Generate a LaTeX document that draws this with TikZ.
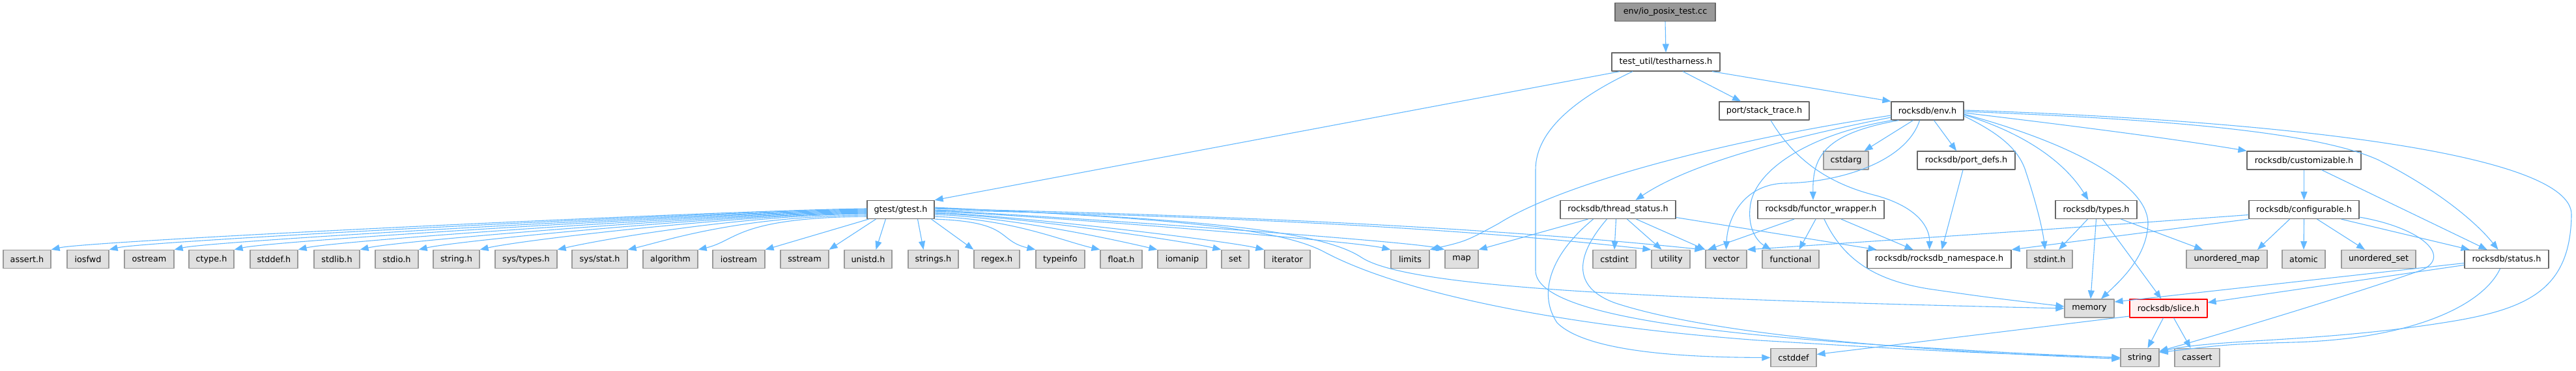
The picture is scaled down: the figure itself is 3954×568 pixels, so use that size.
\documentclass[tikz,border=0pt]{standalone}
\usepackage{fontspec}
\setmainfont{DejaVu Sans}
\usetikzlibrary{arrows.meta}
\definecolor{arista}{HTML}{63B8FF}
\definecolor{bordesis}{HTML}{999999}
\definecolor{fondosis}{HTML}{E0E0E0}
\definecolor{bordedoc}{HTML}{666666}
\definecolor{fondoraiz}{HTML}{999999}
\definecolor{fondocorte}{HTML}{FFF0F0}

\begin{document}
\begin{tikzpicture}[x=1pt, y=-1pt, line join=round,
  every node/.style={font=\fontsize{12.8}{15}\selectfont, inner sep=0pt, minimum height=28pt, line width=1.2pt},
  sysh/.style={draw=bordesis, fill=fondosis},
  doch/.style={draw=bordedoc, fill=white},
  raiz/.style={draw=bordedoc, fill=fondoraiz},
  cortado/.style={draw=red, fill=fondocorte},
  incl/.style={draw=arista, line width=1.1pt, -{Triangle[length=13pt,width=10pt]}}]
  \useasboundingbox (0,0) rectangle (3954,568);
  % los ficheros del proyecto
  \node[raiz, minimum width=154] (io) at (2556,18.5) {env/io\_posix\_test.cc};
  \node[doch, minimum width=166] (th) at (2557,95) {test\_util/testharness.h};
  \node[doch, minimum width=138] (stack) at (2708,170) {port/stack\_trace.h};
  \node[doch, minimum width=111] (env) at (2958.5,170) {rocksdb/env.h};
  \node[sysh, minimum width=69] (cstdarg) at (2833.5,246) {cstdarg};
  \node[doch, minimum width=150] (portdefs) at (3018,246) {rocksdb/port\_defs.h};
  \node[doch, minimum width=175] (custom) at (3536.5,246) {rocksdb/customizable.h};
  \node[doch, minimum width=103] (gtest) at (1382.5,321.5) {gtest/gtest.h};
  \node[doch, minimum width=177] (thread) at (2483.5,321.5) {rocksdb/thread\_status.h};
  \node[doch, minimum width=194] (functor) at (2795,321.5) {rocksdb/functor\_wrapper.h};
  \node[doch, minimum width=125] (types) at (3217.5,321.5) {rocksdb/types.h};
  \node[doch, minimum width=169] (config) at (3536.5,321.5) {rocksdb/configurable.h};
  \node[doch, minimum width=221] (nspace) at (2976.5,397.5) {rocksdb/rocksdb\_namespace.h};
  \node[doch, minimum width=129] (status) at (3847.5,397.5) {rocksdb/status.h};
  \node[sysh, minimum width=76] (memory) at (3207,473) {memory};
  \node[cortado, minimum width=119] (slice) at (3328.5,473) {rocksdb/slice.h};
  \node[sysh, minimum width=70] (cstddef) at (2753,548.5) {cstddef};
  \node[sysh, minimum width=59] (string) at (3284.5,548.5) {string};
  \node[sysh, minimum width=69] (cassert) at (3372.5,548.5) {cassert};
  % las cabeceras del sistema, en una fila
  \foreach \n/\t/\c/\w in {hassert/assert.h/41.5/73, hiosfwd/iosfwd/135/64, hostream/ostream/229/76,
      hctype/ctype.h/324.5/69, hstddef/stddef.h/420.5/73, hstdlib/stdlib.h/517/70, hstdio/stdio.h/609/66,
      hstring/string.h/700.5/71, hsystypes/{sys/types.h}/807.5/95, hsysstat/{sys/stat.h}/920.5/85,
      halgorithm/algorithm/1029/84, hiostream/iostream/1134/80, hsstream/sstream/1235/74,
      hunistd/unistd.h/1332.5/73, hstrings/strings.h/1432.5/77, hregex/regex.h/1530/70,
      htypeinfo/typeinfo/1627.5/75, hfloat/float.h/1721/64, hiomanip/iomanip/1814.5/75, hset/set/1896/42,
      hiterator/iterator/1976/70, hlimits/limits/2164.5/59, hmap/map/2243.5/51, hcstdint/cstdint/2478/66,
      hutility/utility/2564.5/59, hvector/vector/2649.5/63, hfunctional/functional/2748.5/87,
      hstdint/stdint.h/3146/70, humap/unordered\_map/3418/124, hatomic/atomic/3536/66,
      huset/unordered\_set/3651/114} {
    \node[sysh, minimum width=\w] (\n) at (\c,397.5) {\t};
  }
  % arriba del todo
  \draw[incl] (io.south) -- (th.north);
  \draw[incl] ([xshift=13]th.south west) -- (gtest.north east);
  \draw[incl] ([xshift=26]th.south) -- ([xshift=-36]stack.north);
  \draw[incl] ([xshift=71]th.south) -- (env.north west);
  \draw[incl] ([xshift=-51]th.south) .. controls (2420,150) and (2357,200) .. (2357,260) -- (2357,415)
    .. controls (2357,480) and (2600,510) .. (2900,530) .. controls (3100,542) .. (string.west);
  % gtest hacia la izquierda
  \foreach \n/\s in {hassert/1.5, hiosfwd/0.5, hostream/-0.5, hctype/-1.5, hstddef/-2.5, hstdlib/-3.5,
      hstdio/-4.5, hstring/-5.5, hsystypes/-6.5, hsysstat/-8.5, halgorithm/-10.5} {
    \draw[incl] ([yshift=\s]gtest.west) .. controls +(-200,2) and +(60,-14) .. (\n.north east);
  }
  \draw[incl] ([xshift=3]gtest.south west) -- (hiostream.north east);
  \draw[incl] ([xshift=14]gtest.south west) -- (hsstream.north east);
  \draw[incl] ([xshift=29]gtest.south west) -- ([xshift=12]hunistd.north);
  % gtest hacia la derecha
  \draw[incl] ([xshift=26]gtest.south) -- ([xshift=-15]hstrings.north);
  \draw[incl] ([xshift=-5]gtest.south east) -- (hregex.north west);
  \foreach \n/\s in {htypeinfo/0, hfloat/4, hiomanip/7, hset/9, hiterator/10, hlimits/12, hmap/13} {
    \draw[incl] ([yshift=\s]gtest.south east) .. controls +(120,4) and +(-60,-14) .. (\n.north west);
  }
  \draw[incl] ([yshift=14]gtest.south east) .. controls (1800,330) and (2200,345) .. (hutility.north west);
  \draw[incl] ([yshift=16]gtest.south east) .. controls (1800,328) and (2250,345) .. ([xshift=-3]hvector.north west);
  \draw[incl] ([yshift=17]gtest.south east) .. controls (1850,335) and (2030,355) .. (2090,395)
    .. controls (2160,440) and (2500,458) .. (memory.west);
  \draw[incl] ([yshift=18]gtest.south east) .. controls (1800,335) and (1960,350) .. (2030,385)
    .. controls (2150,450) and (2400,500) .. (2700,522) .. controls (3000,540) .. (string.west);
  % env.h
  \draw[incl] ([yshift=-7]env.west) .. controls (2650,215) and (2400,280) .. (2300,343)
    .. controls (2250,370) .. (hlimits.north east);
  \draw[incl] ([yshift=-10]env.west) .. controls (2700,220) and (2580,260) .. ([xshift=27]thread.north);
  \draw[incl] ([xshift=2]env.south west) .. controls (2780,205) and (2690,260) .. (2686,320)
    .. controls (2683,355) and (2700,372) .. ([xshift=-30]hfunctional.north);
  \draw[incl] ([xshift=12]env.south west) .. controls (2800,205) and (2782,240) .. ([xshift=-12]functor.north);
  \draw[incl] ([xshift=-12]env.south) .. controls (2925,250) and (2820,280) .. (2740,281)
    .. controls (2680,282) and (2652,330) .. (hvector.north);
  \draw[incl] ([xshift=-22]env.south) -- ([xshift=28]cstdarg.north);
  \draw[incl] ([xshift=10]env.south) -- ([xshift=-15]portdefs.north);
  \draw[incl] ([yshift=-8]env.east) .. controls (3070,205) and (3100,230) .. (3110,265)
    .. controls (3125,310) and (3135,350) .. ([xshift=-7]hstdint.north);
  \draw[incl] ([yshift=-6]env.east) .. controls (3110,205) and (3170,250) .. ([xshift=-12]types.north);
  \draw[incl] ([yshift=-5]env.east) .. controls (3200,225) and (3300,290) .. (3297,345)
    .. controls (3294,395) and (3255,430) .. ([xshift=18]memory.north);
  \draw[incl] ([yshift=-3]env.east) .. controls (3200,195) and (3350,215) .. (custom.north west);
  \draw[incl] ([yshift=-1]env.east) .. controls (3300,182) and (3550,200) .. (3650,245)
    .. controls (3740,290) and (3800,340) .. ([xshift=-13]status.north);
  \draw[incl] ([yshift=1]env.east) .. controls (3500,185) and (3950,235) .. (3947,330)
    .. controls (3945,445) and (3880,475) .. (3750,495) .. controls (3560,525) and (3400,520) .. ([yshift=9]string.east);
  % stack_trace.h y port_defs.h
  \draw[incl] ([xshift=10]stack.south) .. controls (2760,255) and (2820,285) .. (2880,300)
    .. controls (2945,318) and (2962,350) .. ([xshift=-15]nspace.north);
  \draw[incl] ([xshift=-5]portdefs.south) -- ([xshift=4]nspace.north);
  % thread_status.h
  \draw[incl] ([xshift=-46]thread.south) -- (hmap.north east);
  \draw[incl] ([xshift=-38]thread.south) .. controls (2380,390) and (2360,450) .. (2390,495)
    .. controls (2440,545) and (2620,548) .. (cstddef.west);
  \draw[incl] ([xshift=-17]thread.south) .. controls (2420,390) and (2410,440) .. (2480,465)
    .. controls (2650,520) and (3000,540) .. ([yshift=-2]string.west);
  \draw[incl] ([xshift=-3]thread.south) -- (hcstdint.north);
  \draw[incl] ([xshift=14]thread.south) -- ([xshift=-14]hutility.north);
  \draw[incl] ([xshift=28]thread.south) -- (hvector.north west);
  \draw[incl] ([yshift=-12]thread.east) -- ([xshift=-96]nspace.north);
  % functor_wrapper.h
  \draw[incl] ([xshift=-41]functor.south) -- ([xshift=4]hvector.north west);
  \draw[incl] ([xshift=-8]functor.south) -- ([xshift=13]hfunctional.north);
  \draw[incl] ([xshift=5]functor.south) .. controls (2830,400) and (2880,430) .. (2960,443)
    .. controls (3050,456) .. ([yshift=3]memory.west);
  \draw[incl] ([xshift=31]functor.south) -- ([xshift=-40]nspace.north);
  % types.h
  \draw[incl] ([xshift=-13]types.south) -- ([xshift=14]hstdint.north);
  \draw[incl] (types.south) -- ([xshift=2]memory.north);
  \draw[incl] ([xshift=10]types.south) -- ([xshift=-11]slice.north);
  \draw[incl] ([xshift=38]types.south) -- ([xshift=-37]humap.north);
  % customizable.h y configurable.h
  \draw[incl] (custom.south) -- (config.north);
  \draw[incl] ([xshift=27]custom.south) -- ([xshift=-30]status.north);
  \draw[incl] ([yshift=-8]config.west) .. controls (3100,355) .. (hvector.north east);
  \draw[incl] (config.south west) -- (nspace.north east);
  \draw[incl] ([xshift=-22]config.south) -- ([xshift=47]humap.north);
  \draw[incl] (config.south) -- (hatomic.north);
  \draw[incl] ([xshift=20]config.south) -- ([xshift=-21]huset.north);
  \draw[incl] ([xshift=57]config.south) -- ([xshift=-57]status.north);
  \draw[incl] ([yshift=-11.5]config.east) .. controls (3720,350) and (3765,395) .. (3715,415)
    .. controls (3600,455) and (3400,515) .. ([yshift=10]string.east);
  % status.h y slice.h
  \draw[incl] ([yshift=-6]status.west) -- ([yshift=10]memory.east);
  \draw[incl] ([yshift=-9]status.west) -- ([yshift=9]slice.east);
  \draw[incl] ([xshift=-10]status.south) .. controls (3810,470) and (3700,520) .. (3520,525)
    .. controls (3420,528) .. ([yshift=8]string.east);
  \draw[incl] ([xshift=-8]slice.south) -- ([xshift=12]string.north);
  \draw[incl] ([xshift=8]slice.south) -- ([xshift=-10]cassert.north);
  \draw[incl] ([yshift=-12]slice.west) -- ([yshift=5]cstddef.east);
\end{tikzpicture}
\end{document}
